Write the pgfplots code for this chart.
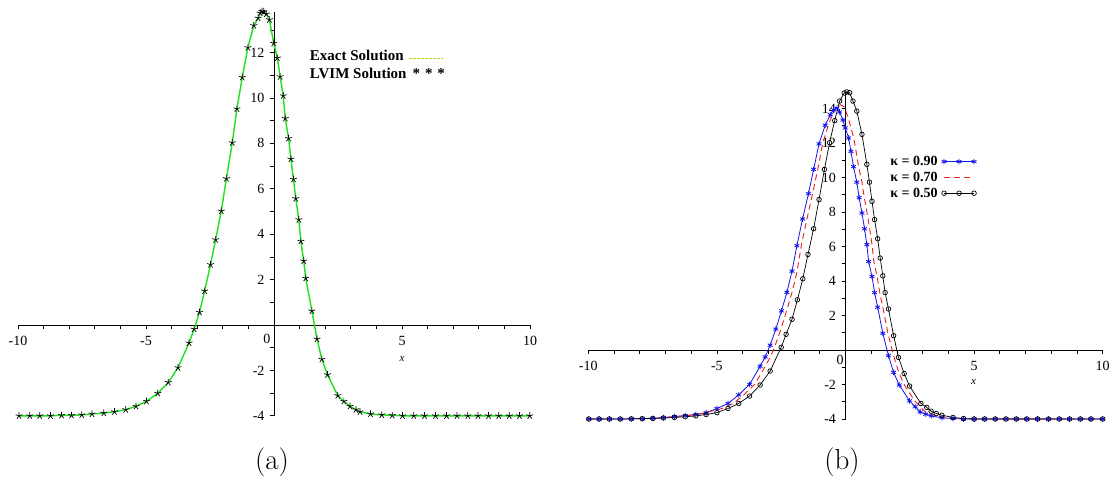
\documentclass[border=0pt]{standalone}
\usepackage{fontspec}
\usepackage{pgfplots}
\pgfplotsset{compat=1.18}
\newfontfamily\timesf{Liberation Serif}
\definecolor{mygreen}{RGB}{30,225,30}
\definecolor{ygreen}{RGB}{195,215,40}
\definecolor{myblue}{RGB}{20,20,235}
\definecolor{myred}{RGB}{235,30,30}

\pgfplotstableread{
x y
-9.96 -4.00
-9.54 -4.00
-9.15 -4.00
-8.73 -4.00
-8.30 -3.98
-7.91 -3.98
-7.51 -3.96
-7.11 -3.92
-6.65 -3.88
-6.23 -3.82
-5.79 -3.73
-5.39 -3.58
-4.98 -3.36
-4.54 -3.01
-4.13 -2.53
-3.75 -1.88
-3.32 -0.79
-3.12 -0.18
-2.91 0.56
-2.71 1.50
-2.48 2.66
-2.28 3.76
-2.06 5.02
-1.86 6.45
-1.63 8.03
-1.45 9.52
-1.24 10.91
-1.02 12.22
-0.79 13.19
-0.62 13.52
-0.54 13.74
-0.47 13.82
-0.40 13.80
-0.30 13.70
-0.18 13.45
-0.01 12.41
0.13 11.76
0.24 10.94
0.36 10.10
0.44 9.10
0.57 8.22
0.66 7.31
0.76 6.42
0.85 5.57
0.97 4.64
1.05 3.69
1.16 2.82
1.24 2.06
1.48 0.62
1.68 -0.62
1.87 -1.51
2.09 -2.19
2.49 -3.11
2.73 -3.36
2.97 -3.58
3.20 -3.73
3.36 -3.82
3.77 -3.92
4.21 -3.96
4.62 -3.98
5.02 -4.00
5.46 -4.00
5.88 -4.00
6.31 -4.00
6.74 -4.00
7.15 -4.00
7.57 -4.00
7.97 -4.00
8.38 -4.00
8.78 -4.00
9.19 -4.00
9.59 -4.00
9.99 -4.00
}\dataA

\pgfplotstableread{
x y
-9.98 -4.00
-9.58 -4.00
-9.18 -4.00
-8.76 -4.00
-8.33 -3.99
-7.90 -3.98
-7.49 -3.96
-7.08 -3.92
-6.65 -3.86
-6.23 -3.80
-5.82 -3.74
-5.42 -3.64
-5.00 -3.39
-4.57 -3.10
-4.15 -2.60
-3.73 -1.99
-3.32 -0.94
-3.12 -0.40
-2.93 0.28
-2.71 1.21
-2.49 2.27
-2.28 3.34
-2.08 4.57
-1.89 6.05
-1.67 7.59
-1.44 9.07
-1.24 10.47
-1.03 11.95
-0.79 13.03
-0.59 13.64
-0.47 13.93
-0.33 14.02
-0.23 13.80
-0.10 13.33
-0.01 12.87
0.12 12.29
0.21 11.52
0.31 10.63
0.44 9.73
0.53 8.83
0.64 7.94
0.74 7.03
0.83 6.11
0.90 5.13
1.03 4.26
1.13 3.33
1.25 2.48
1.45 0.97
1.67 -0.33
1.87 -1.30
2.09 -2.03
2.49 -2.95
2.71 -3.29
2.90 -3.59
3.12 -3.72
3.33 -3.82
3.75 -3.93
4.18 -3.97
4.59 -4.00
5.00 -4.00
5.41 -4.00
5.82 -4.00
6.24 -4.00
6.64 -4.00
7.05 -4.00
7.47 -4.00
7.89 -4.00
8.31 -4.00
8.71 -4.00
9.13 -4.00
9.54 -4.00
10.00 -4.00
}\dataBlue

\pgfplotstableread{
x y
-10.00 -4.00
-9.50 -4.00
-9.00 -4.00
-8.50 -3.99
-8.10 -3.98
-7.70 -3.97
-7.30 -3.94
-6.88 -3.89
-6.45 -3.84
-6.03 -3.78
-5.62 -3.70
-5.22 -3.55
-4.80 -3.39
-4.37 -3.10
-3.95 -2.60
-3.53 -1.99
-3.12 -0.94
-2.92 -0.40
-2.73 0.28
-2.51 1.21
-2.29 2.27
-2.08 3.34
-1.88 4.57
-1.72 6.05
-1.50 7.59
-1.28 9.07
-1.08 10.47
-0.89 11.95
-0.67 13.03
-0.49 13.70
-0.35 14.10
-0.20 14.22
-0.05 14.10
0.10 13.50
0.20 12.95
0.32 12.29
0.41 11.52
0.51 10.63
0.64 9.73
0.73 8.83
0.84 7.94
0.94 7.03
1.03 6.11
1.10 5.13
1.23 4.26
1.33 3.33
1.45 2.48
1.65 0.97
1.87 -0.33
2.07 -1.30
2.29 -2.03
2.69 -2.95
2.91 -3.29
3.10 -3.59
3.32 -3.72
3.53 -3.82
3.95 -3.93
4.38 -3.97
4.80 -4.00
10.00 -4.00
}\dataRed

\pgfplotstableread{
x y
-9.98 -4.00
-9.58 -4.00
-9.18 -4.00
-8.76 -4.00
-8.33 -3.99
-7.90 -3.98
-7.49 -3.97
-7.08 -3.94
-6.65 -3.91
-6.23 -3.87
-5.82 -3.82
-5.42 -3.74
-5.00 -3.63
-4.57 -3.39
-4.15 -3.10
-3.73 -2.67
-3.32 -2.03
-2.93 -1.22
-2.50 0.16
-2.31 0.91
-2.08 1.78
-1.87 2.91
-1.66 4.13
-1.46 5.54
-1.24 7.03
-1.03 8.72
-0.82 10.47
-0.62 12.02
-0.42 13.30
-0.23 14.43
-0.05 14.90
0.05 14.96
0.16 14.92
0.29 14.43
0.44 13.85
0.64 12.50
0.83 10.76
0.93 9.73
1.03 8.62
1.13 7.56
1.25 6.45
1.35 5.33
1.45 4.30
1.54 3.33
1.67 2.38
1.87 0.83
2.06 -0.43
2.28 -1.36
2.49 -2.09
2.93 -3.10
3.16 -3.33
3.33 -3.55
3.53 -3.68
3.75 -3.78
4.18 -3.91
4.59 -3.97
5.00 -4.00
5.41 -4.00
5.82 -4.00
6.24 -4.00
6.64 -4.00
7.05 -4.00
7.47 -4.00
7.89 -4.00
8.31 -4.00
8.71 -4.00
9.13 -4.00
9.54 -4.00
10.00 -4.00
}\dataBlack

\pgfplotsset{
  maple/.style={
    axis lines=middle,
    axis line style={-, line width=0.8pt, black},
    enlargelimits=false, clip=false,
    xmin=-10, xmax=10,
    xtick={-10,-5,5,10}, xticklabels={-10,-5,5,10},
    minor xtick={-9,-8,-7,-6,-4,-3,-2,-1,1,2,3,4,6,7,8,9},
    xtick align=outside, ytick align=outside,
    major tick length=4pt, minor tick length=4pt,
    every tick/.style={black, line width=0.7pt},
    every minor tick/.style={black, line width=0.7pt},
    tick label style={font=\timesf\fontsize{14}{16}\selectfont},
    xticklabel style={yshift=-4pt},
    yticklabel style={xshift=-2pt},
    legend cell align=left,
    legend plot pos=right,
  }
}

\begin{document}
\begin{tikzpicture}
\path[use as bounding box] (0pt,0pt) rectangle (1110pt,483pt);

% ---------- panel (a)
\begin{axis}[maple,
  at={(18pt,67.2pt)}, anchor=south west,
  x=25.6pt, y=22.7pt,
  ymin=-4, ymax=13.8,
  ytick={-4,-2,2,4,6,8,10,12}, yticklabels={-4,-2,2,4,6,8,10,12},
  minor ytick={-3,-1,1,3,5,7,9,11,13},
  legend style={at={(0.566,0.91)}, anchor=north west, draw=none, fill=none,
    inner sep=0pt, row sep=2pt, column sep=0pt,
    font=\timesf\bfseries\fontsize{15}{17}\selectfont},
]
\addplot[mygreen, line width=1.4pt, forget plot] table[x=x,y=y] {\dataA};
\addplot[only marks, mark=star, mark size=3.6pt, black, line width=0.7pt, forget plot] table[x=x,y=y] {\dataA};
\addlegendimage{legend image code/.code={\draw[ygreen, line width=1.5pt, dash pattern=on 3pt off 1pt] (0pt,-2pt) -- (34pt,-2pt);}}
\addlegendentry{Exact Solution}
\addlegendimage{legend image code/.code={\node[anchor=west, inner sep=0pt, font=\timesf\bfseries\fontsize{15}{17}\selectfont] at (3pt,0pt) {*\,\,*\,\,*};}}
\addlegendentry{LVIM Solution}
\node[font=\timesf\fontsize{14}{16}\selectfont] at (axis cs:-0.28,-0.63) {0};
\node[font=\timesf\itshape\fontsize{11}{13}\selectfont] at (axis cs:5,-1.5) {x};
\end{axis}

% ---------- panel (b)
\begin{axis}[maple,
  at={(588.3pt,64pt)}, anchor=south west,
  x=25.72pt, y=17.25pt,
  ymin=-4, ymax=14.85,
  ytick={-4,-2,2,4,6,8,10,12,14}, yticklabels={-4,-2,2,4,6,8,10,12,14},
  minor ytick={-3,-1,1,3,5,7,9,11,13},
  legend style={at={(0.583,0.815)}, anchor=north west, draw=none, fill=none,
    inner sep=0pt, row sep=1pt, column sep=2pt,
    font=\timesf\bfseries\fontsize{14}{16}\selectfont},
  legend image code/.code={\draw[#1] plot coordinates {(0pt,0pt) (15pt,0pt) (30pt,0pt)};},
]
\addplot[myblue, line width=0.8pt, mark=asterisk, mark size=2.8pt] table[x=x,y=y] {\dataBlue};
\addlegendentry{κ = 0.90}
\addplot[myred, line width=0.9pt, dash pattern=on 6pt off 4pt] table[x=x,y=y] {\dataRed};
\addlegendentry{κ = 0.70}
\addplot[black, line width=0.7pt, mark=o, mark size=2.3pt] table[x=x,y=y] {\dataBlack};
\addlegendentry{κ = 0.50}
\node[font=\timesf\fontsize{14}{16}\selectfont] at (axis cs:-0.21,-0.58) {0};
\node[font=\timesf\itshape\fontsize{11}{13}\selectfont] at (axis cs:4.98,-1.85) {x};
\end{axis}

\node at (272pt,21pt) {\fontsize{29}{34}\selectfont (a)};
\node at (842pt,21pt) {\fontsize{29}{34}\selectfont (b)};
\end{tikzpicture}
\end{document}
